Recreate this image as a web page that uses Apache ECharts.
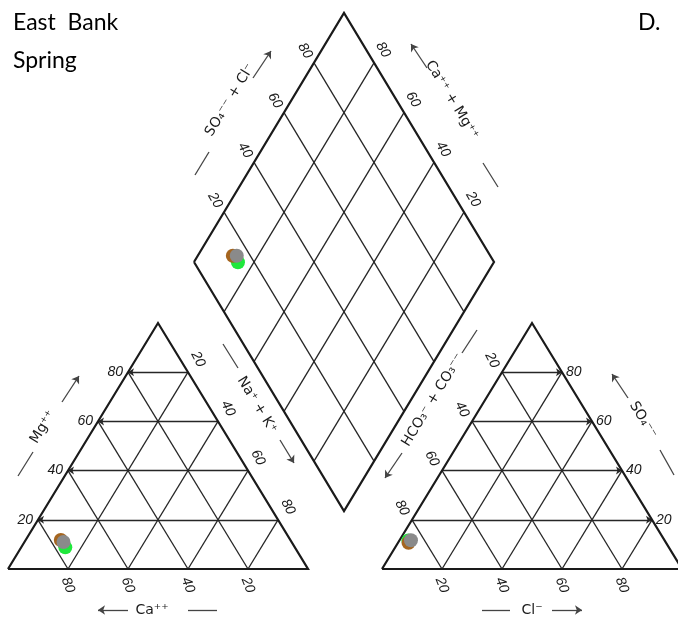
<!DOCTYPE html>
<html>
<head>
<meta charset="utf-8">
<script src="https://cdn.jsdelivr.net/npm/echarts@6/dist/echarts.min.js"></script>
<style>
  html, body { margin: 0; padding: 0; background: #fff; }
  #chart { width: 678px; height: 619px; }
</style>
</head>
<body>
<div id="chart"></div>
<script>
// Ionic composition of the three spring samples (meq %), drawn in this order
const sampleColors = ['#1fe83c', '#a5651f', '#8a8a8a'];
const caPct   = [76.5, 76.5, 76.0];
const mgPct   = [8.8, 11.8, 11.0];
const naKPct  = [14.7, 11.7, 13.0];
const hco3Pct = [85.4, 85.8, 84.5];
const so4Pct  = [11.6, 10.7, 11.7];
const clPct   = [3.0, 3.5, 3.8];

// percentage ticks on every axis
const tickValues = [20, 40, 60, 80];

// layout of the three plot fields (axis units == canvas pixels)
const CAT = { x0: 8, y0: 569, w: 300, h: 246 };
const AN = { x0: 382, y0: 569, w: 300, h: 246 };
const DIA = { cx: 344, cy: 262, hw: 150, hh: 249 };

function catXY(ca, mg, na) {
  return [CAT.x0 + CAT.w * (na + mg / 2) / 100, CAT.y0 - CAT.h * mg / 100];
}
function anXY(hco3, so4, cl) {
  return [AN.x0 + AN.w * (cl + so4 / 2) / 100, AN.y0 - AN.h * so4 / 100];
}
function diaXY(nak, so4cl) {
  const v = nak / 100, u = so4cl / 100;
  return [DIA.cx - DIA.hw * (1 - v) + DIA.hw * u,
          DIA.cy + DIA.hh - DIA.hh * (1 - v) - DIA.hh * u];
}

// outlines
const frames = [
  [catXY(100, 0, 0), catXY(0, 0, 100), catXY(0, 100, 0), catXY(100, 0, 0)],
  [anXY(100, 0, 0), anXY(0, 0, 100), anXY(0, 100, 0), anXY(100, 0, 0)],
  [diaXY(0, 0), diaXY(0, 100), diaXY(100, 100), diaXY(100, 0), diaXY(0, 0)]
];

// inner grid
const gridLines = [];
const arrowGrid = [];
tickValues.forEach(t => {
  arrowGrid.push({ coords: [catXY(0, t, 100 - t), catXY(100 - t, t, 0)] });
  gridLines.push({ coords: [catXY(100 - t, 0, t), catXY(0, 100 - t, t)] });
  gridLines.push({ coords: [catXY(t, 0, 100 - t), catXY(t, 100 - t, 0)] });
  arrowGrid.push({ coords: [anXY(100 - t, t, 0), anXY(0, t, 100 - t)] });
  gridLines.push({ coords: [anXY(100 - t, 0, t), anXY(0, 100 - t, t)] });
  gridLines.push({ coords: [anXY(t, 0, 100 - t), anXY(t, 100 - t, 0)] });
  gridLines.push({ coords: [diaXY(0, t), diaXY(100, t)] });
  gridLines.push({ coords: [diaXY(t, 0), diaXY(t, 100)] });
});

// axis title guides: a short dash and an arrow beside every title
const guideDashes = [
  [[18, 476], [33, 452]], [[223, 344], [238, 368]], [[188, 610], [217, 610]],
  [[195, 175], [209, 152]], [[483, 163], [498, 187]],
  [[462, 353], [477, 330]], [[482, 610], [510, 610]], [[660, 450], [674, 475]]
];
const guideArrows = [
  [[62, 402], [79, 376]], [[280, 440], [294, 463]], [[128, 610], [98, 610]],
  [[253, 78], [271, 51]], [[427, 68], [411, 44]],
  [[402, 453], [385, 478]], [[552, 610], [582, 610]], [[628, 398], [612, 374]]
];

const INK = '#1a1a1a';
const tickFont = { fontSize: 14, fontFamily: 'Liberation Sans', fontStyle: 'italic', fill: INK };
const titleFont = { fontSize: 14, fontFamily: 'DejaVu Sans', fill: INK };
const SLOPE = Math.atan2(CAT.h, CAT.w / 2);

const graphics = [];
function addText(text, x, y, rot, font, align) {
  graphics.push({
    type: 'text', x: x, y: y, rotation: rot || 0, silent: true,
    style: Object.assign({ text: text, x: 0, y: 0, align: align || 'center', verticalAlign: 'middle' }, font)
  });
}

tickValues.forEach(t => {
  let p;
  p = catXY(100 - t, t, 0);  addText(String(t), p[0] - 5, p[1], 0, tickFont, 'right');
  p = catXY(0, 100 - t, t);  addText(String(t), p[0] + 10, p[1] - 13, -1.1, tickFont);
  p = catXY(t, 0, 100 - t);  addText(String(t), p[0], p[1] + 16, -1.2, tickFont);
  p = anXY(0, t, 100 - t);   addText(String(t), p[0] + 4, p[1], 0, tickFont, 'left');
  p = anXY(t, 100 - t, 0);   addText(String(t), p[0] - 10, p[1] - 12, -1.1, tickFont);
  p = anXY(100 - t, 0, t);   addText(String(t), p[0], p[1] + 16, -1.2, tickFont);
  p = diaXY(0, t);           addText(String(t), p[0] - 9, p[1] - 12, -1.05, tickFont);
  // Ca + Mg runs opposite to Na + K along the upper right edge
  p = diaXY(t, 100);         addText(String(100 - t), p[0] + 9, p[1] - 13, -1.05, tickFont);
});

addText('Mg⁺⁺', 43, 427, SLOPE, titleFont);
addText('Na⁺ + K⁺', 257, 405, -SLOPE, titleFont);
addText('Ca⁺⁺', 152, 610, 0, titleFont);
addText('SO₄⁻⁻ + Cl⁻', 230, 100, SLOPE, titleFont);
addText('Ca⁺⁺ + Mg⁺⁺', 452, 100, -SLOPE, titleFont);
addText('HCO₃⁻ + CO₃⁻⁻', 433, 400, SLOPE, titleFont);
addText('Cl⁻', 532, 610, 0, titleFont);
addText('SO₄⁻⁻', 643, 420, -SLOPE, titleFont);

const headFont = { fontSize: 23, fontFamily: 'Lato', fill: '#000' };
addText('East  Bank', 13, 23, 0, headFont, 'left');
addText('Spring', 13, 61, 0, headFont, 'left');
addText('D.', 638, 23, 0, headFont, 'left');

const series = [
  {
    type: 'lines', coordinateSystem: 'cartesian2d', polyline: true, silent: true, clip: false,
    lineStyle: { color: INK, width: 2.2, opacity: 1, join: 'miter' },
    data: frames.map(f => ({ coords: f })), z: 3
  },
  {
    type: 'lines', coordinateSystem: 'cartesian2d', silent: true, clip: false,
    lineStyle: { color: '#262626', width: 1.3, opacity: 1 },
    data: gridLines, z: 2
  },
  {
    type: 'lines', coordinateSystem: 'cartesian2d', silent: true, clip: false,
    symbol: ['none', 'arrow'], symbolSize: 6,
    lineStyle: { color: '#262626', width: 1.3, opacity: 1 },
    data: arrowGrid, z: 2
  },
  {
    type: 'lines', coordinateSystem: 'cartesian2d', silent: true, clip: false,
    lineStyle: { color: '#444', width: 1.3, opacity: 1 },
    data: guideDashes.map(c => ({ coords: c })), z: 2
  },
  {
    type: 'lines', coordinateSystem: 'cartesian2d', silent: true, clip: false,
    symbol: ['none', 'arrow'], symbolSize: 7,
    lineStyle: { color: '#444', width: 1.3, opacity: 1 },
    data: guideArrows.map(c => ({ coords: c })), z: 2
  }
];

sampleColors.forEach((color, i) => {
  series.push({
    type: 'scatter', silent: true, clip: false,
    symbol: 'circle', symbolSize: 14, z: 5 + i,
    itemStyle: { color: color, opacity: 1 },
    data: [
      catXY(caPct[i], mgPct[i], naKPct[i]),
      anXY(hco3Pct[i], so4Pct[i], clPct[i]),
      diaXY(naKPct[i], so4Pct[i] + clPct[i])
    ]
  });
});

const chart = echarts.init(document.getElementById('chart'), null, { renderer: 'canvas' });
chart.setOption({
  animation: false,
  backgroundColor: '#fff',
  grid: { left: 0, right: 0, top: 0, bottom: 0 },
  xAxis: { type: 'value', min: 0, max: 678, show: false },
  yAxis: { type: 'value', min: 0, max: 619, inverse: true, show: false },
  series: series,
  graphic: graphics
});
</script>
</body>
</html>
